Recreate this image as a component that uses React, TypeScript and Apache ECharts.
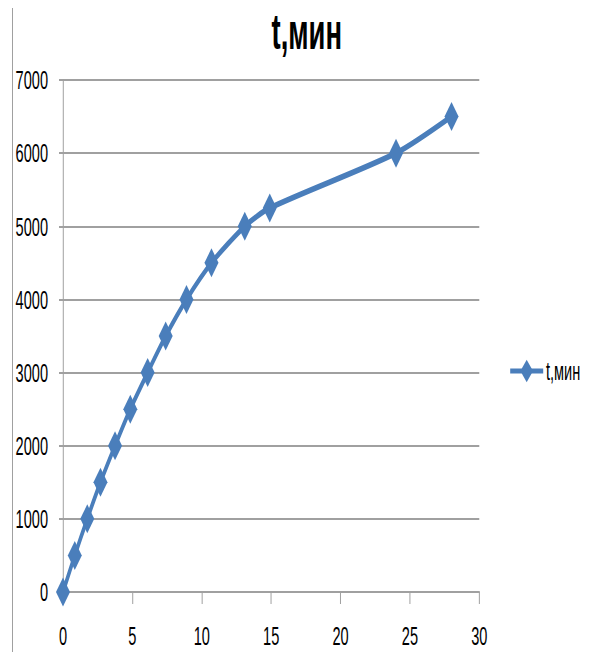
import React, { useEffect, useRef } from "react";
import * as echarts from "echarts";

const seriesName = "t,мин";
const xValues = [0, 0.85, 1.75, 2.7, 3.75, 4.85, 6.1, 7.4, 8.9, 10.7, 13.1, 14.9, 24, 28];
const yValues = [0, 500, 1000, 1500, 2000, 2500, 3000, 3500, 4000, 4500, 5000, 5250, 6000, 6500];

const FONT = "'Liberation Sans', Arial, sans-serif";
// the reference is horizontally compressed: draw wide, then squeeze
const SQ = 0.56;
const W = 595 / SQ;
const H = 652;
const px = (v: number) => v / SQ; // convert a final-picture x distance to pre-squeeze

export default function App() {
  const ref = useRef<HTMLDivElement>(null);
  useEffect(() => {
    if (!ref.current) return;
    const chart = echarts.init(ref.current, undefined, { renderer: "svg" });
    const data = xValues.map((x, i) => [x, yValues[i]]);
    chart.setOption({
      animation: false,
      backgroundColor: "#ffffff",
      title: {
        text: seriesName,
        left: px(304),
        textAlign: "center",
        top: 2,
        textStyle: { fontFamily: FONT, fontSize: 49, fontWeight: "bold", color: "#000" },
      },
      legend: {
        left: px(506),
        top: 353,
        itemWidth: px(33),
        itemHeight: 28,
        textStyle: { fontFamily: FONT, fontSize: 26, color: "#000" },
        lineStyle: { width: 5 },
        data: [seriesName],
      },
      grid: { left: px(63), right: px(116), top: 80, bottom: 60, containLabel: false },
      xAxis: {
        type: "value",
        min: 0,
        max: 30,
        interval: 5,
        axisLine: { show: true, lineStyle: { color: "#a0a0a0", width: 2 } },
        axisTick: { show: true, length: 12, lineStyle: { color: "#a0a0a0", width: px(1) } },
        axisLabel: {
          margin: 31,
          fontFamily: FONT,
          fontSize: 26,
          color: "#000",
          formatter: (v: number) => String(v),
        },
        splitLine: { show: false },
      },
      yAxis: {
        type: "value",
        min: 0,
        max: 7000,
        interval: 1000,
        axisLine: { show: true, lineStyle: { color: "#a0a0a0", width: px(1) } },
        axisTick: { show: true, length: px(4), lineStyle: { color: "#a0a0a0", width: 2 } },
        axisLabel: {
          margin: px(15),
          fontFamily: FONT,
          fontSize: 26,
          color: "#000",
          formatter: (v: number) => String(v),
        },
        splitLine: { show: true, lineStyle: { color: "#a0a0a0", width: 2 } },
      },
      graphic: [
        {
          type: "line",
          shape: { x1: px(12.5), y1: 8, x2: px(12.5), y2: 652 },
          style: { stroke: "#a0a0a0", lineWidth: px(1) },
        },
      ],
      series: [
        {
          name: seriesName,
          type: "line",
          data,
          smooth: 0.25,
          symbol: "diamond",
          symbolSize: [px(14), 29],
          itemStyle: { color: "#4a7ebb" },
          lineStyle: { color: "#4a7ebb", width: 6 },
        },
      ],
    });
    return () => chart.dispose();
  }, []);
  return (
    <div style={{ position: "fixed", left: 0, top: 0, width: 595, height: H, overflow: "hidden", background: "#fff" }}>
      <div
        ref={ref}
        style={{ width: W, height: H, transform: `scaleX(${SQ})`, transformOrigin: "0 0" }}
      />
    </div>
  );
}
